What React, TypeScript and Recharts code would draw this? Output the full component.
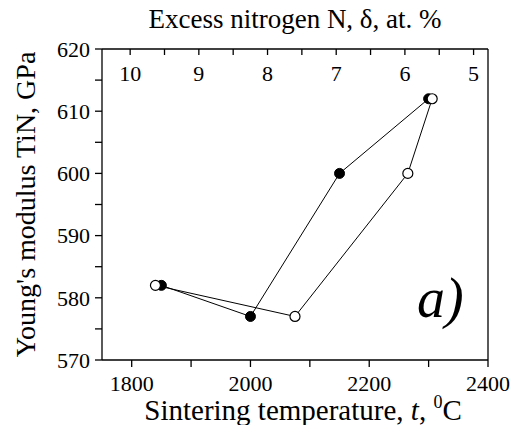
import React from 'react';
import { ScatterChart, Scatter, XAxis, YAxis } from 'recharts';

// sintering temperature (°C) vs Young's modulus (GPa)
const filledTemps = [1850, 2000, 2150, 2300];
const filledModulus = [582, 577, 600, 612];
const openTemps = [1840, 2075, 2265, 2306];
const openModulus = [582, 577, 600, 612];

const tempTicks = [1800, 1900, 2000, 2100, 2200, 2300, 2400];
const tempLabels = [1800, 2000, 2200, 2400];
const nitrogenTicks = [10, 9.5, 9, 8.5, 8, 7.5, 7, 6.5, 6, 5.5, 5];
const nitrogenLabels = [10, 9, 8, 7, 6, 5];
const modulusTicks = [570, 575, 580, 585, 590, 595, 600, 605, 610, 615, 620];
const modulusLabels = [570, 580, 590, 600, 610, 620];

const filledData = filledTemps.map((t, i) => ({ t, e: filledModulus[i] }));
const openData = openTemps.map((t, i) => ({ t, e: openModulus[i] }));
// only there so the top axis has something bound to it (draws nothing)
const nitrogenAxisData = nitrogenLabels.map((d) => ({ d }));

const serif = "'Liberation Serif', 'Times New Roman', Times, serif";
const txt = { fontFamily: serif };
const tickFont = { fontFamily: serif, fontSize: 22, fill: '#000' };
const black = { stroke: '#000', strokeWidth: 1.3 };

const onlyLabels = (labels: number[]) => (v: number) => (labels.includes(v) ? String(v) : '');

const TopTitle = ({ viewBox }: any) => (
  <text x={viewBox.x + viewBox.width / 2} y={viewBox.y + viewBox.height - 21} textAnchor="middle" fontSize={27} fontFamily={serif} style={txt} fill="#000">
    Excess nitrogen N, δ, at. %
  </text>
);

const BottomTitle = ({ viewBox }: any) => (
  <text x={viewBox.x + viewBox.width / 2 + 8} y={viewBox.y + 60} textAnchor="middle" fontSize={29} fontFamily={serif} style={txt} fill="#000">
    Sintering temperature, <tspan fontStyle="italic">t</tspan>,{' '}
    <tspan fontSize={18} dy={-12}>0</tspan>
    <tspan dy={12}>C</tspan>
  </text>
);

const LeftTitle = ({ viewBox }: any) => {
  const cx = 35;
  const cy = viewBox.y + viewBox.height / 2;
  return (
    <text x={cx} y={cy} transform={`rotate(-90, ${cx}, ${cy})`} textAnchor="middle" fontSize={28} fontFamily={serif} style={txt} fill="#000">
      Young's modulus TiN, GPa
    </text>
  );
};

const PanelTag = ({ viewBox }: any) => (
  <text x={viewBox.x - 71} y={viewBox.y + 268} fontSize={56} fontStyle="italic" fontFamily={serif} style={txt} fill="#000">
    a)
  </text>
);

const filledDot = (p: any) => <circle cx={p.cx} cy={p.cy} r={5} fill="#000" stroke="#000" />;
const openDot = (p: any) => <circle cx={p.cx} cy={p.cy} r={5} fill="#fff" stroke="#000" strokeWidth={1.2} />;
const noDot = () => <g />;

export default function App() {
  return (
    <div style={{ position: 'absolute', left: 0, top: 0, background: '#fff' }}>
      <ScatterChart width={518} height={425} margin={{ top: 0, right: 0, bottom: 0, left: 0 }}>
        <XAxis
          xAxisId="bottom"
          dataKey="t"
          type="number"
          domain={[1750, 2400]}
          allowDataOverflow
          ticks={tempTicks}
          tickFormatter={onlyLabels(tempLabels)}
          interval={0}
          height={65}
          tickSize={7}
          tickMargin={8}
          tickLine={black}
          axisLine={black}
          tick={tickFont}
          label={{ content: BottomTitle }}
        />
        <XAxis
          xAxisId="top"
          orientation="top"
          dataKey="d"
          type="number"
          domain={[4.79, 10.41]}
          reversed
          allowDataOverflow
          ticks={nitrogenTicks}
          tickFormatter={onlyLabels(nitrogenLabels)}
          interval={0}
          height={49}
          tickSize={-6}
          tickMargin={-26}
          tickLine={black}
          axisLine={black}
          tick={tickFont}
          label={{ content: TopTitle }}
        />
        <YAxis
          yAxisId="left"
          dataKey="e"
          type="number"
          domain={[570, 620]}
          allowDataOverflow
          ticks={modulusTicks}
          tickFormatter={onlyLabels(modulusLabels)}
          interval={0}
          width={102}
          tickSize={7}
          tickMargin={5}
          tickLine={black}
          axisLine={black}
          tick={tickFont}
          label={{ content: LeftTitle }}
        />
        <YAxis
          yAxisId="right"
          orientation="right"
          dataKey="e"
          type="number"
          domain={[570, 620]}
          allowDataOverflow
          ticks={modulusTicks}
          interval={0}
          width={30}
          tickSize={-6}
          tickLine={black}
          axisLine={black}
          tick={false}
          label={{ content: PanelTag }}
        />
        <Scatter
          data={nitrogenAxisData}
          xAxisId="top"
          yAxisId="left"
          shape={noDot}
          isAnimationActive={false}
        />
        <Scatter
          data={filledData}
          xAxisId="bottom"
          yAxisId="left"
          line={{ stroke: '#000', strokeWidth: 1 }}
          lineType="joint"
          shape={filledDot}
          isAnimationActive={false}
        />
        <Scatter
          data={openData}
          xAxisId="bottom"
          yAxisId="right"
          line={{ stroke: '#000', strokeWidth: 1 }}
          lineType="joint"
          shape={openDot}
          isAnimationActive={false}
        />
      </ScatterChart>
    </div>
  );
}
